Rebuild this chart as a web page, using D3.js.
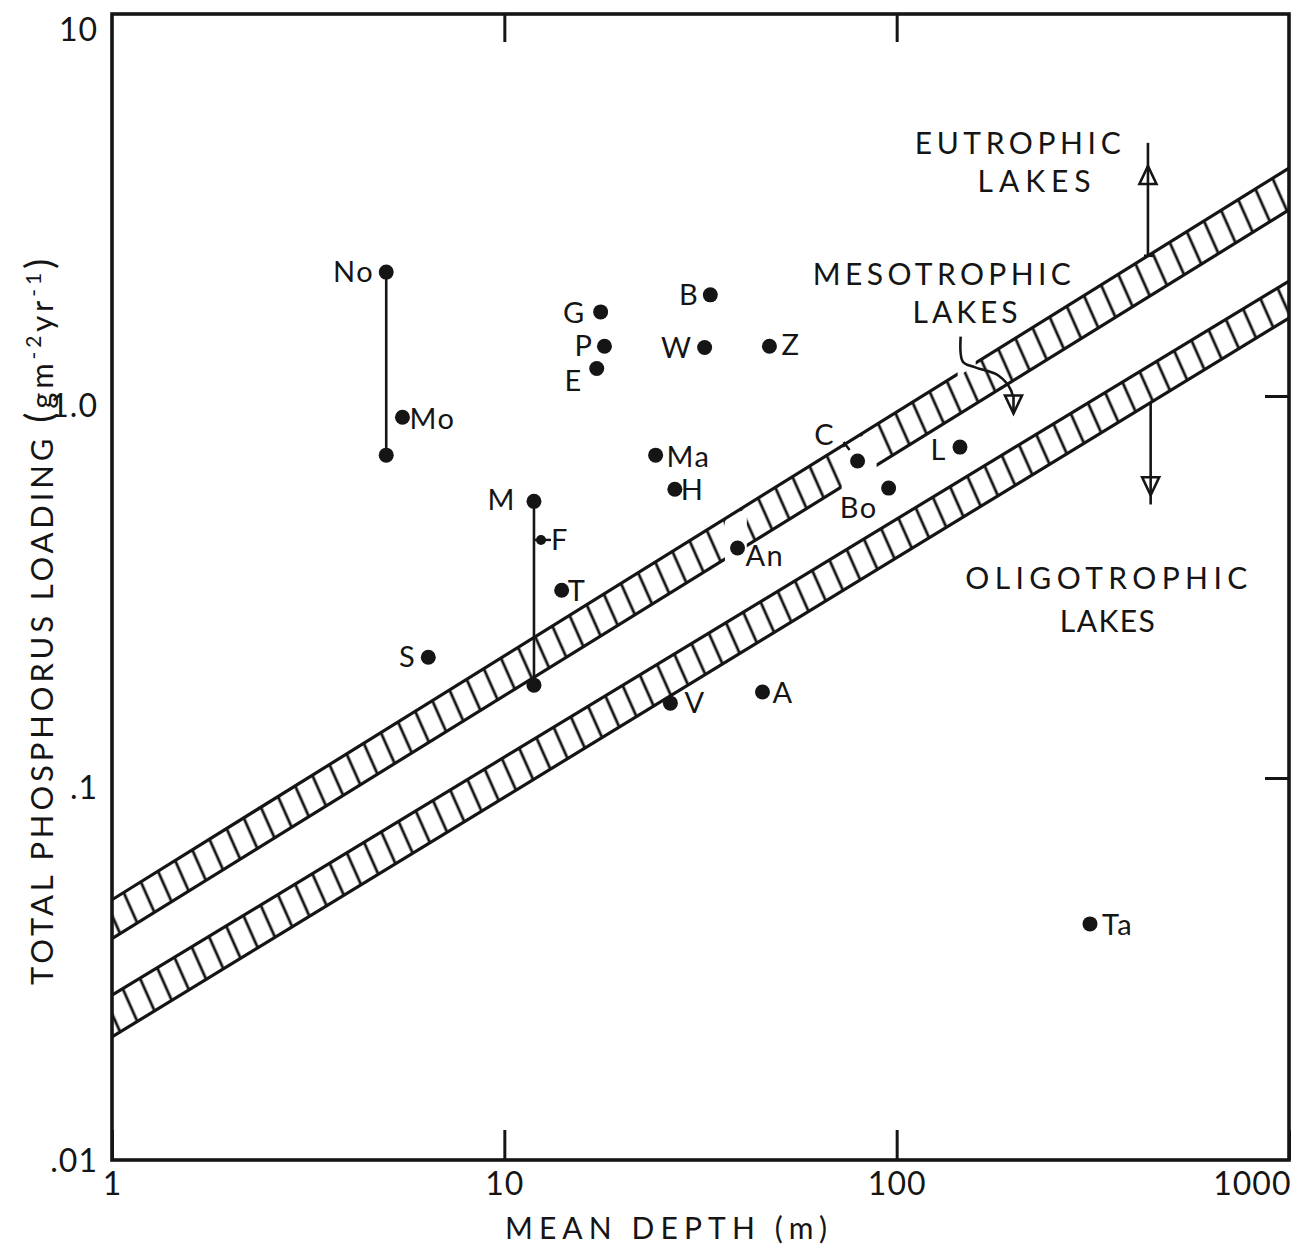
<!DOCTYPE html>
<html>
<head>
<meta charset="utf-8">
<script src="https://cdn.jsdelivr.net/npm/d3@7"></script>
<style>
  html, body { margin: 0; padding: 0; background: #fff; }
  svg { display: block; }
  text { font-family: Lato, "Open Sans", sans-serif; fill: #151515; }
</style>
</head>
<body>
<svg id="chart" width="1302" height="1249"></svg>
<script>
// Lakes plotted by mean depth (m) and total phosphorus loading (g m^-2 yr^-1)
const lakeNames  = ["G", "P", "E", "B", "W", "Z", "Mo", "Ma", "H", "An", "T", "S", "V", "A", "C", "L", "Bo", "Ta", "F"];
const lakeDepths = [17.6, 18.0, 17.2, 33.5, 32.4, 47.4, 5.5, 24.3, 27.2, 39.3, 14.0, 6.4, 26.5, 45.5, 79.5, 145, 95.4, 311, 12.4];
const lakeLoads  = [1.66, 1.35, 1.18, 1.84, 1.34, 1.35, 0.88, 0.70, 0.57, 0.40, 0.31, 0.207, 0.157, 0.168, 0.676, 0.735, 0.574, 0.0415, 0.42];

// Lakes shown with a high and a low loading estimate joined by a bar
const rangeNames  = ["No", "M"];
const rangeDepths = [5.0, 11.9];
const rangeHigh   = [2.11, 0.53];
const rangeLow    = [0.70, 0.175];

// Boundary bands (edges given at the two ends of the depth axis)
const bandDepths      = [1, 1000];
const upperBandTop    = [0.048, 3.95];
const upperBandBottom = [0.038, 3.07];
const lowerBandTop    = [0.027, 2.0];
const lowerBandBottom = [0.021, 1.6];

// Breaks in the upper band where labels and the pointer cross it (depth ranges)
const upperBreakFrom = [36.5, 72.4, 143];
const upperBreakTo   = [41.5, 88.9, 159];
const upperBreakPart = ["inner", "inner", "top"];

// Axis ticks
const xTickValues = [1, 10, 100, 1000];
const xTickLabels = ["1", "10", "100", "1000"];
const yTickValues = [0.01, 0.1, 1, 10];
const yTickLabels = [".01", ".1", "1.0", "10"];

// Trophic-state arrows
const eutroArrowDepth = 437, eutroArrowEnd = 4.6, eutroHeadTip = 4.0;
const oligoArrowDepth = 444, oligoArrowEnd = 0.52, oligoHeadTip = 0.55;
const mesoArrowDepths = [145.6, 147.5, 158, 182, 196, 198.5];
const mesoArrowLoads  = [1.43, 1.23, 1.19, 1.13, 1.03, 0.90];

// ---------------------------------------------------------------------------
const svg = d3.select("#chart");
const ink = "#151515";

const x = d3.scaleLog().domain([1, 1000]).range([112, 1289]);
const y = d3.scaleLog().domain([0.01, 10]).range([1160, 14]);

// log-log straight line through the two band end values
function edgeAt(edge, depth) {
  const l0 = Math.log10(bandDepths[0]), l1 = Math.log10(bandDepths[1]);
  const t = (Math.log10(depth) - l0) / (l1 - l0);
  return Math.pow(10, Math.log10(edge[0]) + t * (Math.log10(edge[1]) - Math.log10(edge[0])));
}

// stretch a text's letter spacing so it spans a given width
function fitWidth(sel, target) {
  const node = sel.node();
  const natural = node.getComputedTextLength();
  const n = node.textContent.length;
  sel.style("letter-spacing", ((target - natural) / Math.max(1, n - 1)) + "px");
}

const defs = svg.append("defs");
defs.append("clipPath").attr("id", "plotClip")
  .append("rect")
  .attr("x", x.range()[0]).attr("y", y.range()[1])
  .attr("width", x.range()[1] - x.range()[0])
  .attr("height", y.range()[0] - y.range()[1]);

const rungs = defs.append("pattern")
  .attr("id", "rungs")
  .attr("patternUnits", "userSpaceOnUse")
  .attr("width", 20).attr("height", 40)
  .attr("patternTransform", "rotate(-24)");
rungs.append("line")
  .attr("x1", 10).attr("y1", -2).attr("x2", 10).attr("y2", 42)
  .attr("stroke", ink).attr("stroke-width", 2.8);

// mask that opens the breaks in the upper band
const mask = defs.append("mask").attr("id", "upperBreaks")
  .attr("maskUnits", "userSpaceOnUse")
  .attr("x", 0).attr("y", 0).attr("width", 1302).attr("height", 1249);
mask.append("rect").attr("width", 1302).attr("height", 1249).attr("fill", "#fff");
upperBreakFrom.forEach((d0, i) => {
  const d1 = upperBreakTo[i];
  const xa = x(d0), xb = x(d1);
  const ta = y(edgeAt(upperBandTop, d0)), tb = y(edgeAt(upperBandTop, d1));
  const ba = y(edgeAt(upperBandBottom, d0)), bb = y(edgeAt(upperBandBottom, d1));
  const poly = upperBreakPart[i] === "top"
    ? [[xa, ta - 5], [xb, tb - 5], [xb, tb + 2.5], [xa, ta + 2.5]]
    : [[xa, ta + 2.5], [xb, tb + 2.5], [xb, bb + 5], [xa, ba + 5]];
  mask.append("path").attr("d", "M" + poly.join("L") + "Z").attr("fill", "#000");
});

// ---- bands ----
const bandG = svg.append("g").attr("clip-path", "url(#plotClip)");
function drawBand(top, bottom, maskId) {
  const g = bandG.append("g");
  if (maskId) g.attr("mask", `url(#${maskId})`);
  const pts = bandDepths.map((d, i) => ({ d, t: top[i], b: bottom[i] }));
  g.append("path")
    .datum(pts)
    .attr("d", d3.area().x(p => x(p.d)).y0(p => y(p.b)).y1(p => y(p.t)))
    .attr("fill", "url(#rungs)");
  [top, bottom].forEach(edge => {
    g.append("path")
      .datum(bandDepths.map((d, i) => ({ d, v: edge[i] })))
      .attr("d", d3.line().x(p => x(p.d)).y(p => y(p.v)))
      .attr("fill", "none").attr("stroke", ink).attr("stroke-width", 3.2);
  });
}
drawBand(upperBandTop, upperBandBottom, "upperBreaks");
drawBand(lowerBandTop, lowerBandBottom, null);

// ---- frame and ticks ----
svg.append("rect")
  .attr("x", x.range()[0]).attr("y", y.range()[1])
  .attr("width", x.range()[1] - x.range()[0])
  .attr("height", y.range()[0] - y.range()[1])
  .attr("fill", "none").attr("stroke", ink).attr("stroke-width", 3.6);

function styleAxis(g) {
  g.select(".domain").remove();
  g.selectAll(".tick line").attr("stroke", ink).attr("stroke-width", 3);
  g.selectAll(".tick text").attr("fill", ink).style("font-size", "32px")
    .style("font-family", "Lato, 'Open Sans', sans-serif");
}

svg.append("g").attr("transform", `translate(0,${y.range()[0]})`)
  .call(d3.axisBottom(x).tickValues(xTickValues)
    .tickFormat((d, i) => xTickLabels[i]).tickSizeInner(-30).tickSizeOuter(0).tickPadding(11))
  .call(styleAxis)
  .call(g => g.selectAll(".tick text").attr("dy", "0.74em").style("letter-spacing", "1px"))
  .call(g => g.selectAll(".tick").filter(d => d === 1000).select("text")
    .attr("text-anchor", "end").attr("x", 2));

svg.append("g").attr("transform", `translate(0,${y.range()[1]})`)
  .call(d3.axisTop(x).tickValues([10, 100]).tickFormat("").tickSizeInner(-28).tickSizeOuter(0))
  .call(styleAxis);

svg.append("g").attr("transform", `translate(${x.range()[1]},0)`)
  .call(d3.axisRight(y).tickValues([0.1, 1]).tickFormat("").tickSizeInner(-24).tickSizeOuter(0))
  .call(styleAxis);

const yLabelShift = [0, 9, 9, 15];
svg.append("g").attr("transform", `translate(${x.range()[0]},0)`)
  .call(d3.axisLeft(y).tickValues(yTickValues)
    .tickFormat((d, i) => yTickLabels[i]).tickSizeInner(0).tickSizeOuter(0).tickPadding(14))
  .call(styleAxis)
  .call(g => g.selectAll(".tick text")
    .attr("dy", "0.35em")
    .attr("y", (d, i) => yLabelShift[i])
    .style("letter-spacing", "1px"));

// ---- axis titles ----
const xTitle = svg.append("text")
  .attr("x", 669).attr("y", 1239).attr("text-anchor", "middle")
  .style("font-size", "30px").text("MEAN DEPTH (m)");
fitWidth(xTitle, 322);

const yTitle = svg.append("text")
  .attr("transform", "translate(53,620) rotate(-90)")
  .attr("text-anchor", "middle")
  .style("font-size", "31px");
yTitle.append("tspan").text("TOTAL PHOSPHORUS LOADING ");
yTitle.append("tspan").style("font-size", "38px").text("(");
yTitle.append("tspan").text("gm");
yTitle.append("tspan").attr("dy", -12).style("font-size", "21px").text("-2");
yTitle.append("tspan").attr("dy", 12).text("yr");
yTitle.append("tspan").attr("dy", -12).style("font-size", "21px").text("-1");
yTitle.append("tspan").attr("dy", 12).style("font-size", "38px").text(")");
fitWidth(yTitle, 726);

// ---- trophic labels ----
const zoneLabels = [
  { t: "EUTROPHIC",    cx: 1020, by: 154, w: 206 },
  { t: "LAKES",        cx: 1037, by: 192, w: 113 },
  { t: "MESOTROPHIC",  cx: 944,  by: 285, w: 258 },
  { t: "LAKES",        cx: 967,  by: 323, w: 105 },
  { t: "OLIGOTROPHIC", cx: 1109, by: 589, w: 282 },
  { t: "LAKES",        cx: 1108, by: 632, w: 95 }
];
zoneLabels.forEach(z => {
  const t = svg.append("text").attr("x", z.cx).attr("y", z.by)
    .attr("text-anchor", "middle").style("font-size", "30px").text(z.t);
  fitWidth(t, z.w);
});

// ---- arrows ----
const arrowG = svg.append("g").attr("stroke", ink).attr("stroke-width", 2.6).attr("fill", "none");
function head(px, py, dir) { // dir -1 = pointing up, +1 = pointing down
  const h = 18, w = 8.5;
  arrowG.append("path")
    .attr("d", `M${px},${py} L${px - w},${py - dir * h} L${px + w},${py - dir * h} Z`)
    .attr("fill", "#fff");
  arrowG.append("line").attr("x1", px).attr("x2", px)
    .attr("y1", py).attr("y2", py - dir * h);
}
// eutrophic: upward from the upper band
const eutroBase = y(edgeAt(upperBandTop, eutroArrowDepth));
arrowG.append("line")
  .attr("x1", x(eutroArrowDepth)).attr("x2", x(eutroArrowDepth))
  .attr("y1", eutroBase).attr("y2", y(eutroArrowEnd));
arrowG.append("line")
  .attr("x1", x(eutroArrowDepth) - 4).attr("x2", x(eutroArrowDepth) + 5)
  .attr("y1", eutroBase).attr("y2", eutroBase);
head(x(eutroArrowDepth), y(eutroHeadTip), -1);
// oligotrophic: downward from the lower band
arrowG.append("line")
  .attr("x1", x(oligoArrowDepth)).attr("x2", x(oligoArrowDepth))
  .attr("y1", y(edgeAt(lowerBandBottom, oligoArrowDepth))).attr("y2", y(oligoArrowEnd));
head(x(oligoArrowDepth), y(oligoHeadTip), 1);
// mesotrophic: curved pointer into the gap between the bands
const mesoPts = mesoArrowDepths.map((d, i) => [x(d), y(mesoArrowLoads[i])]);
arrowG.append("path")
  .attr("d", d3.line().curve(d3.curveCatmullRom.alpha(0.5))(mesoPts));
const mesoTip = mesoPts[mesoPts.length - 1];
head(mesoTip[0], mesoTip[1], 1);

// ---- range bars ----
const markG = svg.append("g");
rangeNames.forEach((n, i) => {
  markG.append("line")
    .attr("x1", x(rangeDepths[i])).attr("x2", x(rangeDepths[i]))
    .attr("y1", y(rangeHigh[i])).attr("y2", y(rangeLow[i]))
    .attr("stroke", ink).attr("stroke-width", 2.6);
  [rangeHigh[i], rangeLow[i]].forEach(v => {
    markG.append("circle").attr("cx", x(rangeDepths[i])).attr("cy", y(v))
      .attr("r", 7.5).attr("fill", ink);
  });
});

// ---- lake points ----
lakeNames.forEach((n, i) => {
  markG.append("circle").attr("cx", x(lakeDepths[i])).attr("cy", y(lakeLoads[i]))
    .attr("r", n === "F" ? 5 : 7.5).attr("fill", ink);
});
// F is marked with a short bar through its dot
const fi = lakeNames.indexOf("F");
markG.append("line")
  .attr("x1", x(lakeDepths[fi]) - 8).attr("x2", x(lakeDepths[fi]) + 10)
  .attr("y1", y(lakeLoads[fi])).attr("y2", y(lakeLoads[fi]))
  .attr("stroke", ink).attr("stroke-width", 2.4);

// ---- point labels: anchor, dx, dy (baseline offset) ----
const labelPlace = {
  No: ["end", -12, 10], M: ["end", -18, 9],
  G: ["end", -15, 11],  P: ["end", -11, 10], E: ["end", -14, 22],
  B: ["end", -11, 10],  W: ["end", -12, 11], Z: ["start", 12, 9],
  Mo: ["start", 7, 12], Ma: ["start", 11, 12], H: ["start", 6, 11],
  An: ["start", 8, 18], T: ["start", 6, 11], S: ["end", -12, 10],
  V: ["start", 14, 10], A: ["start", 10, 11], C: ["middle", -33, -16],
  L: ["end", -13, 13],  Bo: ["end", -11, 30], Ta: ["start", 12, 11],
  F: ["start", 10, 10]
};
const labelG = svg.append("g").style("font-size", "29px").style("letter-spacing", "1.5px");
function placeLabel(name, d, v) {
  const p = labelPlace[name];
  labelG.append("text")
    .attr("x", x(d) + p[1]).attr("y", y(v) + p[2])
    .attr("text-anchor", p[0]).text(name);
}
lakeNames.forEach((n, i) => placeLabel(n, lakeDepths[i], lakeLoads[i]));
rangeNames.forEach((n, i) => placeLabel(n, rangeDepths[i], rangeHigh[i]));

// short leader joining the "C" label to its point
const ci = lakeNames.indexOf("C");
markG.append("line")
  .attr("x1", x(lakeDepths[ci]) - 14).attr("y1", y(lakeLoads[ci]) - 19)
  .attr("x2", x(lakeDepths[ci]) - 8).attr("y2", y(lakeLoads[ci]) - 11)
  .attr("stroke", ink).attr("stroke-width", 2.4);
</script>
</body>
</html>
